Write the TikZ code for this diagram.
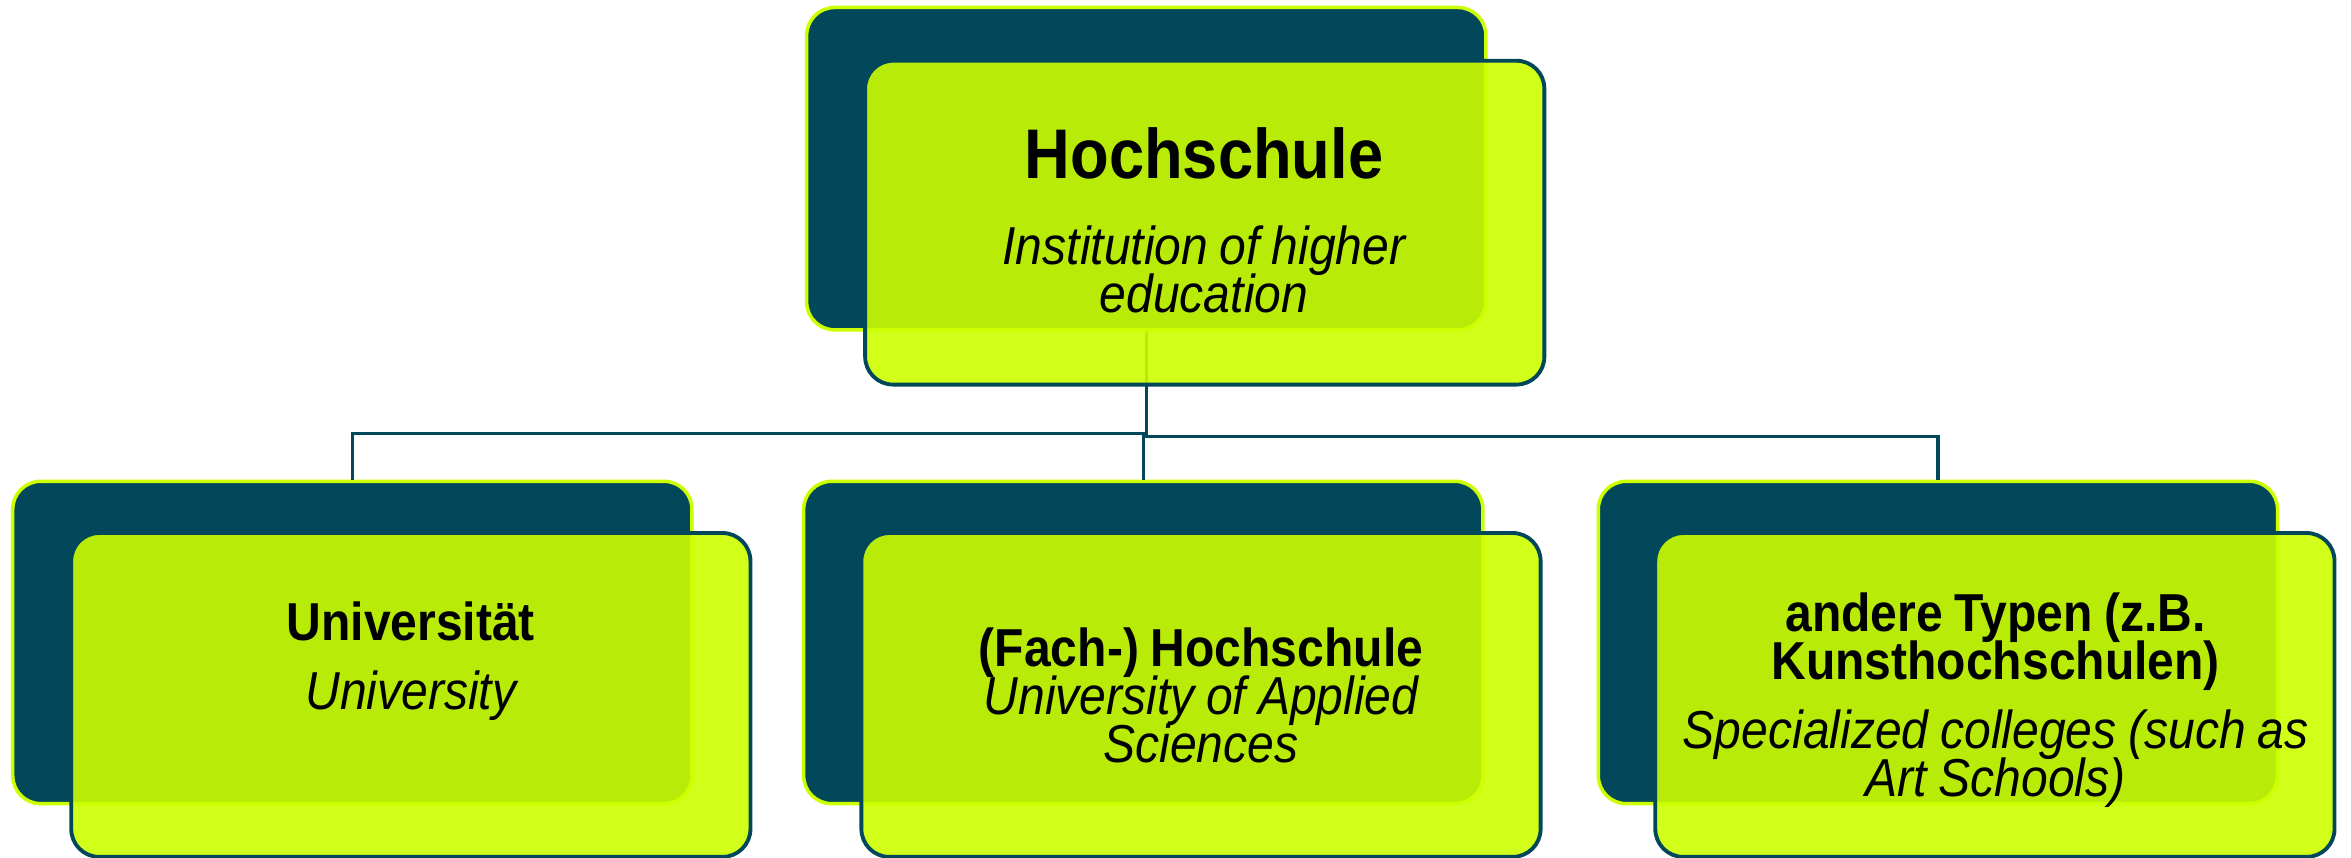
\documentclass[tikz,border=0pt]{standalone}
\usepackage{fontspec}
\setmainfont{Liberation Sans}[FakeStretch=0.9]
\definecolor{hsteal}{HTML}{02475A}
\definecolor{hslime}{HTML}{CCFF00}
\newcommand{\hstitle}{\fontsize{20pt}{20pt}\selectfont\bfseries\lineskiplimit=-\maxdimen}
\newcommand{\hsbold}{\fontsize{15.2pt}{13.7pt}\selectfont\bfseries\lineskiplimit=-\maxdimen}
\newcommand{\hsgloss}{\fontsize{15.2pt}{13.7pt}\selectfont\itshape\lineskiplimit=-\maxdimen}
\tikzset{
  backbox/.style={rectangle, rounded corners=0.28cm, fill=hsteal, draw=hslime, line width=1pt,
    minimum width=6.795cm, minimum height=3.225cm, inner sep=0pt},
  frontbox/.style={rectangle, rounded corners=0.28cm, fill=hslime, fill opacity=0.9, draw=hsteal,
    line width=1.1pt, minimum width=6.795cm, minimum height=3.24cm, inner sep=0pt},
  boxtext/.style={text width=6.6cm, align=center, inner sep=0pt},
  link/.style={draw=hsteal, line width=1pt}
}
\begin{document}
\begin{tikzpicture}[x=0.015cm,y=-0.015cm]
	\useasboundingbox (0,0) rectangle (1568,572);
	\node[backbox] (hsBack) at (764.5,112.5) {};
	\node[backbox] (uniBack) at (235,428.5) {};
	\node[backbox] (fhBack) at (762.5,428.5) {};
	\node[backbox] (otherBack) at (1292.5,428.5) {};
	\draw[link] (hsBack.south) -- ++(0,68) -| (uniBack.north);
	\draw[link] (hsBack.south) -- ++(0,68) -| (fhBack.north);
	\draw[link] (hsBack.south) -- ++(0,70) -| (otherBack.north);
	\node[frontbox] (hsFront) at (803.5,148.5) {};
	\node[frontbox] (uniFront) at (274,463.5) {};
	\node[frontbox] (fhFront) at (801,463.5) {};
	\node[frontbox] (otherFront) at (1330.5,463.5) {};
	\node[boxtext] (hsText) at (803,147) {{\hstitle Hochschule\par}\vspace{10.6pt}{\hsgloss Institution of higher\\education\par}};
	\node[boxtext] (uniText) at (274,441) {{\hsbold Universität\par}\vspace{5.9pt}{\hsgloss University\par}};
	\node[boxtext] (fhText) at (801,464) {{\hsbold (Fach-) Hochschule\par}{\hsgloss University of Applied\\Sciences\par}};
	\node[boxtext] (otherText) at (1331,467) {{\hsbold andere Typen (z.B.\\Kunsthochschulen)\par}\vspace{5.9pt}{\hsgloss Specialized colleges (such as\\Art Schools)\par}};
\end{tikzpicture}
\end{document}
